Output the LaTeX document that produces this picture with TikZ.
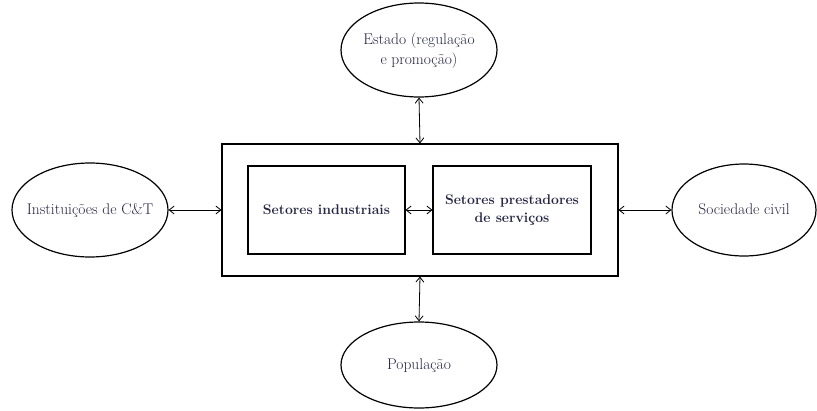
\documentclass[tikz,border=0pt]{standalone}
\usepackage{fontspec}
\usetikzlibrary{shapes.geometric,arrows.meta}
\definecolor{txt}{RGB}{36,36,68}
\newcommand{\zw}[1]{\makebox[0pt]{\begin{tabular}{@{}c@{}}#1\end{tabular}}}
\begin{document}
\begin{tikzpicture}[x=1pt,y=-1pt,
  ell/.style={ellipse,draw,line width=1.2pt,inner sep=0pt,text=txt,font=\fontsize{15.5}{20}\selectfont},
  box/.style={rectangle,draw,line width=1.1pt,inner sep=0pt},
  inbox/.style={box,text=txt,font=\fontsize{14}{18}\selectfont\bfseries,align=center},
  link/.style={{Straight Barb[length=5pt,width=8pt]}-{Straight Barb[length=5pt,width=8pt]},line width=0.8pt}]
\useasboundingbox (0,0) rectangle (817,410);
\node[ell,minimum width=156,minimum height=94] (estado) at (419,50) {\zw{Estado (regulação\\e promoção)}};
\node[ell,minimum width=156,minimum height=94] (inst) at (90,210) {\zw{Instituições de C\&T}};
\node[ell,minimum width=144,minimum height=92] (soc) at (744,210) {\zw{Sociedade civil}};
\node[ell,minimum width=156,minimum height=86] (pop) at (419,365) {\zw{População}};
\node[box,minimum width=396,minimum height=132] (outer) at (420,210) {};
\node[inbox,minimum width=157,minimum height=88] (ind) at (326.5,210) {Setores industriais};
\node[inbox,minimum width=158,minimum height=88] (serv) at (512,210) {Setores prestadores\\de serviços};
\draw[link] (estado.south) -- (outer.north);
\draw[link] (outer.south) -- (pop.north);
\draw[link] (inst.east) -- (outer.west);
\draw[link] (outer.east) -- (soc.west);
\draw[link] (ind.east) -- (serv.west);
\end{tikzpicture}
\end{document}
